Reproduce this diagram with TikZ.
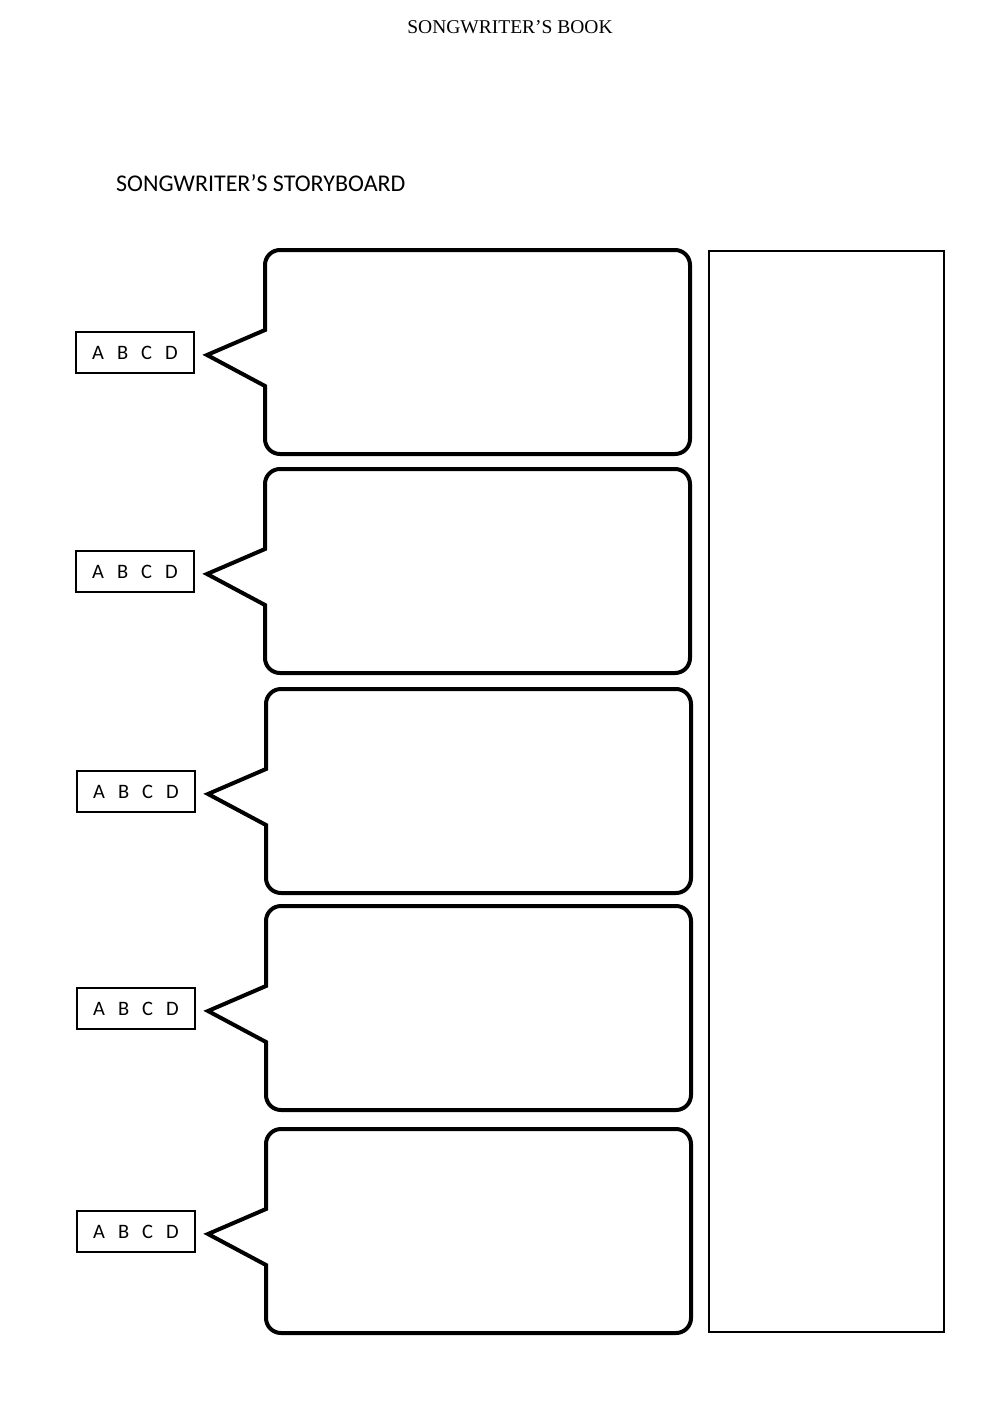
\documentclass[tikz,border=0pt]{standalone}
\usepackage{fontspec}
\setmainfont{Liberation Serif}
\newfontfamily\calib{Carlito}
\newcommand\widespaces{\spaceskip=13pt plus 0pt minus 0pt\relax}
\begin{document}
\begin{tikzpicture}[x=1pt,y=-1pt,
  callout/.style={line width=4pt, line join=miter},
  lbl/.style={draw, line width=1.8pt, minimum width=118pt, minimum height=41pt, inner sep=0pt, font=\calib\fontsize{20.5}{22}\selectfont},
  notes/.style={draw, line width=1.8pt}]
\useasboundingbox (0,0) rectangle (1000,1416);
\node[font=\fontsize{19.5}{22}\selectfont] (book) at (510,27) {SONGWRITER’S BOOK};
\node[font=\calib\fontsize{24}{26}\selectfont, anchor=west, inner sep=0pt] (title) at (116,183) {SONGWRITER’S STORYBOARD};
\foreach \t/\dx [count=\i] in {250/0, 469/0, 689/1, 906/1, 1129/1}{
  \draw[callout] (480+\dx,\t) [rounded corners=15pt] -- (265+\dx,\t) [sharp corners] -- (265+\dx,\t+80) -- (207+\dx,\t+105) -- (265+\dx,\t+136) [rounded corners=15pt] -- (265+\dx,\t+204) -- (690+\dx,\t+204) -- (690+\dx,\t) -- cycle;
  \coordinate (tip\i) at (207+\dx,\t+105);
  \node[lbl] (lab\i) at (135+\dx,\t+102.5) {\widespaces A B C D};
}
\draw[notes] (709,251) rectangle (944,1332);
\end{tikzpicture}
\end{document}
